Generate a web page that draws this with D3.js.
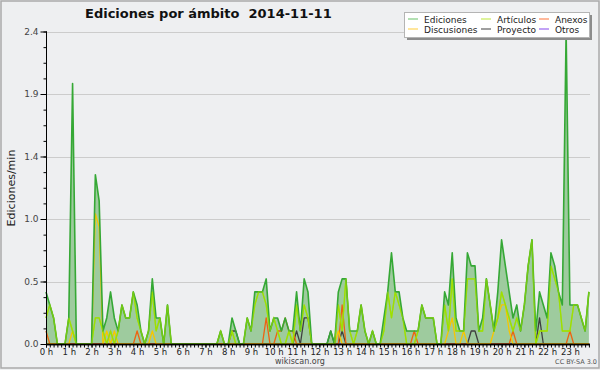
<!DOCTYPE html>
<html>
<head>
<meta charset="utf-8">
<script src="https://cdn.jsdelivr.net/npm/d3@7"></script>
<style>
  body { margin: 0; background: #fff; }
  svg text { font-family: "DejaVu Sans", sans-serif; }
</style>
</head>
<body>
<div id="chart"></div>
<script>
// Ediciones por ámbito - 10 minute bins, edits per minute
const hourLabels = ["0 h","1 h","2 h","3 h","4 h","5 h","6 h","7 h","8 h","9 h","10 h","11 h",
  "12 h","13 h","14 h","15 h","16 h","17 h","18 h","19 h","20 h","21 h","22 h","23 h"];
const yTickValues = [0, 0.48, 0.96, 1.44, 1.92, 2.4];
const yTickLabels = ["0.0", "0.5", "1.0", "1.4", "1.9", "2.4"];

const ediciones = [
  0.4,0.3,0.2,0,0,0,0.2,2.0,0,0,0,0,
  0,1.3,1.1,0.1,0.2,0.4,0.2,0.1,0.3,0.2,0.2,0.4,
  0.3,0.1,0,0.1,0.5,0.2,0.2,0,0.3,0,0,0,
  0,0,0,0,0,0,0,0,0,0,0.1,0,
  0,0.2,0.1,0,0,0.2,0.1,0.4,0.4,0.4,0.5,0.1,
  0.2,0.2,0.1,0.2,0.1,0.1,0.4,0.1,0.5,0.4,0,0,
  0,0,0,0.1,0,0.4,0.5,0.5,0.1,0.1,0.1,0.3,
  0.1,0,0.1,0,0,0.2,0.4,0.7,0.4,0.4,0.2,0.1,
  0.1,0.1,0.1,0.3,0.2,0.2,0.2,0,0,0.4,0.3,0.7,
  0.2,0.1,0.1,0.7,0.6,0.6,0.1,0.2,0.5,0.3,0.1,0.4,
  0.8,0.6,0.4,0.2,0.3,0.1,0.3,0.6,0.8,0.1,0.4,0.3,
  0.2,0.7,0.6,0.4,0.3,2.4,0.3,0.3,0.3,0.2,0.1,0.4
];
const articulos = [
  0.2,0.3,0.2,0,0,0,0.2,0.1,0,0,0,0,
  0,0.2,0.2,0.1,0,0.1,0,0.1,0.3,0.2,0.2,0.4,
  0.2,0.1,0,0.1,0.4,0.1,0.2,0,0.3,0,0,0,
  0,0,0,0,0,0,0,0,0,0,0.1,0,
  0,0.1,0,0,0,0.2,0.1,0.3,0.4,0.4,0.3,0.1,
  0.2,0.1,0,0,0.1,0,0.3,0.1,0.3,0.2,0,0,
  0,0,0,0,0,0.3,0.1,0.5,0.1,0,0.1,0.3,
  0.1,0,0.1,0,0,0.1,0.4,0.2,0.4,0.3,0.2,0,
  0,0,0.1,0.3,0.2,0.2,0.2,0,0,0.3,0.1,0.5,
  0.1,0.1,0.1,0.5,0.5,0.5,0.1,0.1,0.5,0.3,0.1,0.2,
  0.4,0.3,0.2,0.1,0.2,0.1,0.3,0.6,0.8,0,0.1,0.1,
  0.1,0.6,0.5,0.4,0.1,0.1,0.1,0.3,0.3,0.2,0.1,0.4
];
const anexos = [
  0.1,0,0,0,0,0,0,0,0,0,0,0,
  0,0,0,0,0,0,0,0,0,0,0,0,
  0.1,0,0,0,0,0,0,0,0,0,0,0,
  0,0,0,0,0,0,0,0,0,0,0,0,
  0,0,0,0,0,0,0,0,0,0,0.2,0,
  0,0.1,0.1,0.2,0.1,0.1,0,0,0,0,0,0,
  0,0,0,0,0,0,0.3,0,0,0,0,0,
  0,0,0,0,0,0,0,0,0,0,0,0,
  0,0.1,0,0,0,0,0,0,0,0,0,0,
  0,0,0,0,0,0,0,0,0,0,0,0,
  0,0,0,0.1,0,0,0,0,0,0,0,0,
  0,0,0,0,0,0,0.1,0,0,0,0,0
];
const discusiones = [
  0,0,0,0,0,0,0,0.1,0,0,0,0,
  0,1.0,0.9,0,0.1,0,0.1,0,0,0,0,0,
  0,0,0,0,0.1,0,0,0,0,0,0,0,
  0,0,0,0,0,0,0,0,0,0,0,0,
  0,0,0,0,0,0,0,0,0,0,0,0,
  0,0,0,0,0,0,0,0,0,0,0,0,
  0,0,0,0,0,0.1,0,0,0,0,0,0,
  0,0,0,0,0,0,0,0,0,0,0,0,
  0,0,0,0,0,0,0,0,0,0,0.1,0.2,
  0,0,0.1,0,0,0,0,0,0,0,0.1,0.2,
  0.3,0.3,0.1,0,0,0,0,0,0,0,0,0,
  0,0,0,0,0,0,0,0,0,0,0,0
];
const proyecto = [
  0,0,0,0,0,0,0,0,0,0,0,0,
  0,0,0,0,0,0,0,0,0,0,0,0,
  0,0,0,0,0,0,0,0,0,0,0,0,
  0,0,0,0,0,0,0,0,0,0,0,0,
  0,0.1,0.1,0,0,0,0,0,0,0,0,0,
  0,0,0,0,0,0,0.1,0,0.2,0.2,0,0,
  0,0,0,0.1,0,0,0.1,0,0,0,0,0,
  0,0,0,0,0,0,0,0,0,0,0,0,
  0,0,0,0,0,0,0,0,0,0,0,0,
  0,0,0,0,0.1,0.1,0,0,0,0,0,0,
  0,0,0,0,0,0,0,0,0,0,0.2,0,
  0,0,0,0,0,0,0,0,0,0,0,0
];
const otros = [
  0,0,0,0,0,0,0,0,0,0,0,0, 0,0,0,0,0,0,0,0,0,0,0,0,
  0,0,0,0,0,0,0,0,0,0,0,0, 0,0,0,0,0,0,0,0,0,0,0,0,
  0,0,0,0,0,0,0,0,0,0,0,0, 0,0,0,0,0,0,0,0,0,0,0,0,
  0,0,0,0,0,0,0,0,0,0,0,0, 0,0,0,0,0,0,0,0,0,0,0,0,
  0,0,0,0,0,0,0,0,0,0,0,0, 0,0,0,0,0,0,0,0,0,0,0,0,
  0,0,0,0,0,0,0,0,0,0,0,0, 0,0,0,0,0,0,0,0,0,0,0,0
];

const seriesNames = ["Ediciones", "Artículos", "Anexos", "Discusiones", "Proyecto", "Otros"];
const lineColors = ["#35a835", "#9ee000", "#ee6311", "#f7c600", "#3f3f3f", "#8844ee"];
const legendColors = ["#80cc80", "#c8ec5a", "#ff8a5a", "#ffd65a", "#606060", "#9a66f0"];

const W = 600, H = 370;
const svg = d3.select("#chart").append("svg")
  .attr("width", W).attr("height", H);

// background + frame
svg.append("rect").attr("x", 0).attr("y", 0).attr("width", W).attr("height", H).attr("fill", "#eeeff1");
svg.append("rect").attr("x", 1).attr("y", 1).attr("width", 598).attr("height", 367)
  .attr("fill", "none").attr("stroke", "#aaaaaa").attr("stroke-width", 1.5);

const x = d3.scaleLinear().domain([0, 1440]).range([46, 592.7]);
const y = d3.scaleLinear().domain([0, 2.4]).range([344, 31.5]);

// grid
svg.append("g").selectAll("line").data(yTickValues.slice(1)).enter().append("line")
  .attr("x1", 46).attr("x2", 590)
  .attr("y1", d => Math.round(y(d)) + 0.5).attr("y2", d => Math.round(y(d)) + 0.5)
  .attr("stroke", "#cccccc");

// area of total edits
const area = d3.area()
  .x((d, i) => x(i * 10))
  .y0(y(0))
  .y1(d => y(d));
svg.append("path").datum(ediciones)
  .attr("d", area)
  .attr("fill", "#9ecb9e");

// lines
const line = d3.line()
  .x((d, i) => x(i * 10))
  .y(d => y(d));
const allSeries = [ediciones, articulos, anexos, discusiones, proyecto, otros];
[5, 4, 2, 3, 1, 0].forEach(k => {
  svg.append("path").datum(allSeries[k])
    .attr("d", line)
    .attr("fill", "none")
    .attr("stroke", lineColors[k])
    .attr("stroke-width", k === 0 ? 1.6 : 1.3)
    .attr("stroke-linejoin", "round");
});
// keep articulos drawn over ediciones where they coincide
svg.append("path").datum(articulos)
  .attr("d", line).attr("fill", "none")
  .attr("stroke", lineColors[1]).attr("stroke-width", 1.3).attr("stroke-opacity", 0.6);

// y axis
const yAxis = d3.axisLeft(y).tickValues(yTickValues)
  .tickFormat((d, i) => yTickLabels[i]).tickSize(6).tickPadding(2);
const yMinor = d3.axisLeft(y).tickValues(d3.range(0, 2.41, 0.12)).tickFormat("").tickSize(3);
const gy2 = svg.append("g").attr("transform", "translate(46.5,0)").call(yMinor);
const gy = svg.append("g").attr("transform", "translate(46.5,0)").call(yAxis);
[gy, gy2].forEach(g => {
  g.select(".domain").attr("stroke", "#000").attr("d", `M0,${y(2.4)}V${y(0)}`);
  g.selectAll(".tick line").attr("stroke", "#000");
});
gy.selectAll("text").attr("font-size", 9).attr("fill", "#444");

// x axis
const xAxis = d3.axisBottom(x).tickValues(d3.range(0, 1440, 60))
  .tickFormat((d, i) => hourLabels[i]).tickSize(3).tickPadding(1);
const xMinor = d3.axisBottom(x).tickValues(d3.range(0, 1440, 10)).tickFormat("").tickSize(3);
const gx2 = svg.append("g").attr("transform", "translate(0,344.5)").call(xMinor);
const gx = svg.append("g").attr("transform", "translate(0,344.5)").call(xAxis);
[gx, gx2].forEach(g => {
  g.select(".domain").attr("stroke", "#000").attr("stroke-width", 1.3).attr("d", `M46,0H590`);
  g.selectAll(".tick line").attr("stroke", "#000");
});
gx.selectAll("text").attr("font-size", 8.5).attr("fill", "#222");

// title and labels
svg.append("text").attr("x", 85).attr("y", 18)
  .attr("font-family", "'Liberation Sans', Arial, sans-serif")
  .attr("font-weight", "bold").attr("font-size", 13).attr("fill", "#111")
  .style("white-space", "pre")
  .text("Ediciones por ámbito  2014-11-11");
svg.append("text").attr("transform", "translate(15,188) rotate(-90)")
  .attr("text-anchor", "middle").attr("font-size", 11).attr("fill", "#222")
  .text("Ediciones/min");
svg.append("text").attr("x", 300).attr("y", 364).attr("text-anchor", "middle")
  .attr("font-size", 8).attr("fill", "#444").text("wikiscan.org");
svg.append("text").attr("x", 597).attr("y", 364).attr("text-anchor", "end")
  .attr("font-size", 6.5).attr("fill", "#555").text("CC BY-SA 3.0");

// legend
const lg = svg.append("g");
lg.append("rect").attr("x", 407).attr("y", 15).attr("width", 185).attr("height", 25).attr("fill", "#8c8c8c");
lg.append("rect").attr("x", 404.5).attr("y", 12.5).attr("width", 185).attr("height", 25)
  .attr("fill", "#fff").attr("stroke", "#b4b4b4");
const colX = [408, 481, 539];
const rowY = [19, 29];
seriesNames.forEach((name, k) => {
  const cx = colX[k % 3], cy = rowY[Math.floor(k / 3)];
  lg.append("line").attr("x1", cx).attr("x2", cx + 10).attr("y1", cy).attr("y2", cy)
    .attr("stroke", legendColors[k]).attr("stroke-width", 1.2);
  lg.append("text").attr("x", cx + 16).attr("y", cy + 3.5)
    .attr("font-size", 9).attr("fill", "#222").text(name);
});
</script>
</body>
</html>
